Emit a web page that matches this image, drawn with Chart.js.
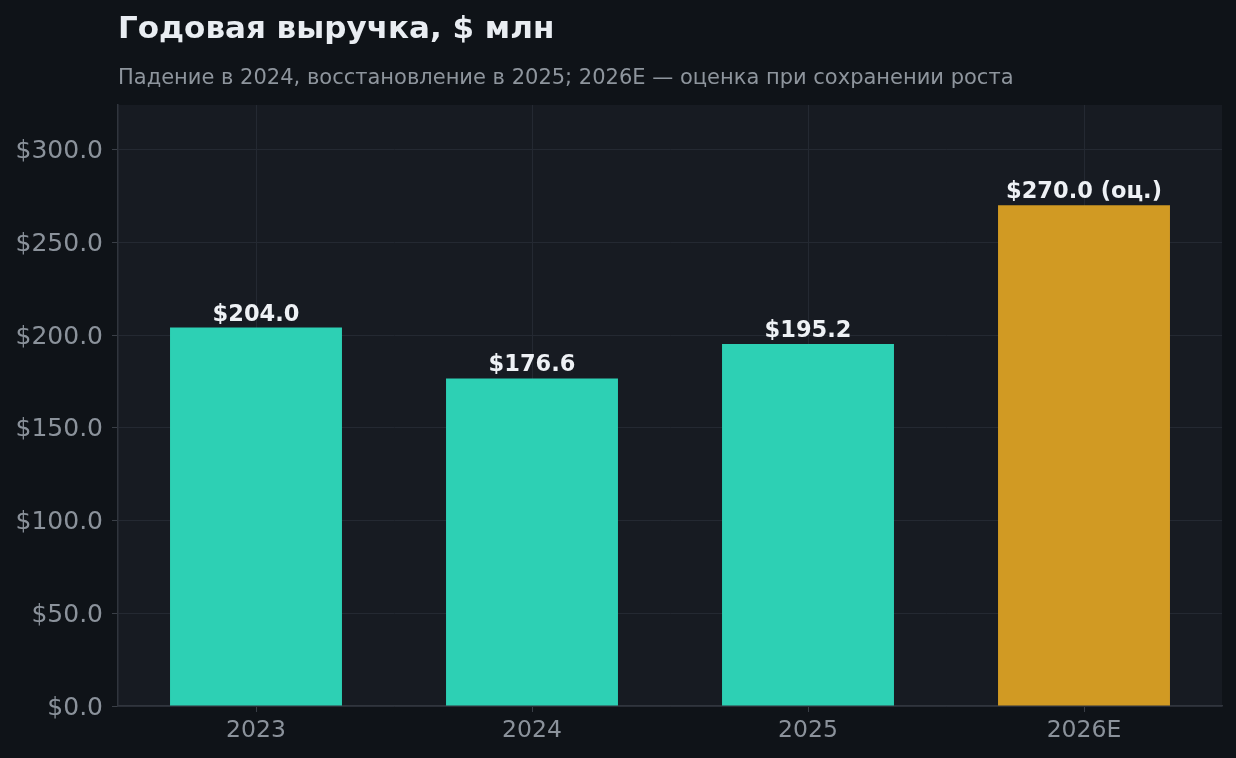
<!DOCTYPE html>
<html>
<head>
<meta charset="utf-8">
<script src="https://cdn.jsdelivr.net/npm/chart.js@4"></script>
<style>
  html, body { margin: 0; padding: 0; background: #0f1318; }
  canvas { display: block; }
</style>
</head>
<body>
<canvas id="revenueChart" width="1236" height="758"></canvas>
<script>
const years = ["2023", "2024", "2025", "2026E"];
const revenue = [204.0, 176.6, 195.2, 270.0];
const isEstimate = [false, false, false, true];
const yTicks = [0, 50, 100, 150, 200, 250, 300];

const titleText = "Годовая выручка, $ млн";
const subtitleText = "Падение в 2024, восстановление в 2025; 2026E — оценка при сохранении роста";

const FONT = "'DejaVu Sans', sans-serif";

/* ====== PLUGINS ====== */
const plotBackground = {
    id: "plotBackground",
    beforeDraw(chart) {
        const { ctx, chartArea: a } = chart;
        ctx.save();
        ctx.fillStyle = "#0f1318";
        ctx.fillRect(0, 0, chart.width, chart.height);
        ctx.fillStyle = "#171b22";
        ctx.fillRect(a.left, a.top, a.right - a.left, a.bottom - a.top);
        ctx.restore();
    }
};

const headings = {
    id: "headings",
    afterDraw(chart) {
        const { ctx, chartArea: a } = chart;
        ctx.save();
        ctx.textAlign = "left";
        ctx.textBaseline = "alphabetic";
        ctx.fillStyle = "#e9edf2";
        ctx.font = "bold 31px " + FONT;
        ctx.fillText(titleText, a.left, 38);
        ctx.fillStyle = "#8e959d";
        ctx.font = "21px " + FONT;
        ctx.fillText(subtitleText, a.left, 84);
        ctx.restore();
    }
};

const barLabels = {
    id: "barLabels",
    afterDatasetsDraw(chart) {
        const { ctx } = chart;
        const meta = chart.getDatasetMeta(0);
        ctx.save();
        ctx.textAlign = "center";
        ctx.textBaseline = "alphabetic";
        ctx.fillStyle = "#eef1f5";
        ctx.font = "bold 22.5px " + FONT;
        meta.data.forEach((bar, i) => {
            let txt = "$" + revenue[i].toFixed(1);
            if (isEstimate[i]) txt += " (оц.)";
            ctx.fillText(txt, bar.x, bar.y - 7);
        });
        ctx.restore();
    }
};

/* ====== CHART ====== */
new Chart(document.getElementById("revenueChart"), {
    type: "bar",
    data: {
        labels: years,
        datasets: [{
            data: revenue,
            backgroundColor: isEstimate.map(e => e ? "#d19a23" : "#2dd0b4"),
            borderWidth: 0,
            categoryPercentage: 1,
            barPercentage: 0.623
        }]
    },
    options: {
        responsive: false,
        devicePixelRatio: 1,
        animation: false,
        layout: { padding: { top: 105, right: 14, left: 0, bottom: 0 } },
        plugins: {
            legend: { display: false },
            tooltip: { enabled: false }
        },
        scales: {
            x: {
                grid: {
                    offset: false,
                    color: "#242932",
                    lineWidth: 1,
                    tickLength: 6,
                    tickColor: "#3a3f47"
                },
                border: { color: "#30353d", width: 1.5 },
                ticks: {
                    color: "#8b929b",
                    font: { family: FONT, size: 23.5 },
                    padding: 5
                },
                afterFit(scale) { scale.height = 52; }
            },
            y: {
                min: 0,
                max: 324,
                grid: {
                    color: "#242932",
                    lineWidth: 1,
                    tickLength: 6,
                    tickColor: "#3a3f47"
                },
                border: { color: "#30353d", width: 1.5 },
                ticks: {
                    stepSize: 50,
                    color: "#8b929b",
                    font: { family: FONT, size: 25 },
                    padding: 9,
                    labelOffset: 2,
                    callback: v => "$" + Number(v).toFixed(1)
                },
                afterBuildTicks(scale) {
                    scale.ticks = yTicks.map(v => ({ value: v }));
                },
                afterFit(scale) { scale.width = 118; }
            }
        }
    },
    plugins: [plotBackground, headings, barLabels]
});
</script>
</body>
</html>
